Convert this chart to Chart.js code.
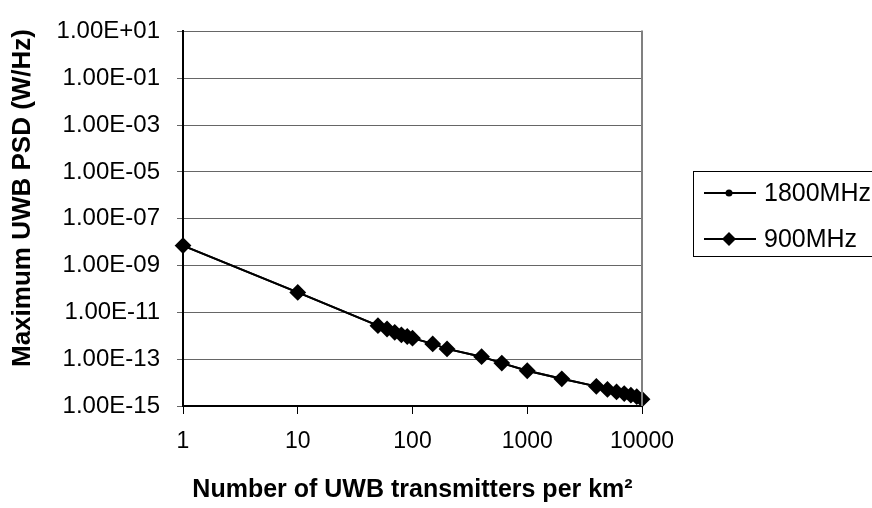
<!DOCTYPE html>
<html>
<head>
<meta charset="utf-8">
<script src="https://cdn.jsdelivr.net/npm/chart.js@4"></script>
<style>
  html, body { margin: 0; padding: 0; background: #fff; }
  #wrap { width: 872px; height: 508px; position: relative; }
</style>
</head>
<body>
<div id="wrap"><canvas id="psdChart"></canvas></div>
<script>
// ===============================
// data
// ===============================
const transmitters = [1, 10, 50, 60, 70, 80, 90, 100, 150, 200, 400, 600, 1000, 2000, 4000, 5000, 6000, 7000, 8000, 9000, 10000];
const psd1800 = [7.1e-9, 7.1e-11, 2.7e-12, 1.95e-12, 1.4e-12, 1.1e-12, 9.3e-13, 7.9e-13, 4.5e-13, 2.75e-13, 1.28e-13, 6.8e-14, 3.2e-14, 1.45e-14, 6.9e-15, 5.1e-15, 4.0e-15, 3.4e-15, 2.9e-15, 2.5e-15, 1.96e-15];
const psd900 = [7.1e-9, 7.1e-11, 2.7e-12, 1.95e-12, 1.4e-12, 1.1e-12, 9.3e-13, 7.9e-13, 4.5e-13, 2.75e-13, 1.28e-13, 6.8e-14, 3.2e-14, 1.45e-14, 6.9e-15, 5.1e-15, 4.0e-15, 3.4e-15, 2.9e-15, 2.5e-15, 1.96e-15];
const seriesNames = ["1800MHz", "900MHz"];
const xTicks = [1, 10, 100, 1000, 10000];
const yTicks = [1e1, 1e-1, 1e-3, 1e-5, 1e-7, 1e-9, 1e-11, 1e-13, 1e-15];
const yTitle = "Maximum UWB PSD (W/Hz)";
const xTitle = "Number of UWB transmitters per km²";

const FONT = "'Liberation Sans', Arial, sans-serif";

function excelExp(v) {
    const e = Math.round(Math.log10(v));
    const m = v / Math.pow(10, e);
    const sign = e < 0 ? "-" : "+";
    const ee = String(Math.abs(e)).padStart(2, "0");
    return m.toFixed(2) + "E" + sign + ee;
}

function toPoints(ys) {
    return transmitters.map((x, i) => ({ x: x, y: ys[i] }));
}

// right border of the plot, y title and legend box
const frameAndLegend = {
    id: "frameAndLegend",
    afterDatasetsDraw(chart) {
        const ctx = chart.ctx;
        const a = chart.chartArea;
        ctx.save();
        ctx.strokeStyle = "#808080";
        ctx.lineWidth = 2;
        ctx.beginPath();
        ctx.moveTo(a.right, a.top - 1);
        ctx.lineTo(a.right, a.bottom);
        ctx.stroke();

        // y title (sits a bit above the plot middle in the original)
        ctx.save();
        ctx.translate(23, 198);
        ctx.rotate(-Math.PI / 2);
        ctx.font = "bold 26px " + FONT;
        ctx.fillStyle = "#000";
        ctx.textAlign = "center";
        ctx.textBaseline = "middle";
        ctx.fillText(yTitle, 0, 0);
        ctx.restore();

        // legend
        ctx.strokeStyle = "#000";
        ctx.lineWidth = 1;
        ctx.strokeRect(693.5, 171.5, 200, 85);
        const rows = [193, 239];
        chart.data.datasets.forEach((ds, i) => {
            const y = rows[i];
            ctx.strokeStyle = "#000";
            ctx.lineWidth = 2;
            ctx.beginPath();
            ctx.moveTo(704, y);
            ctx.lineTo(756, y);
            ctx.stroke();
            ctx.fillStyle = "#000";
            if (ds.pointStyle === "rectRot") {
                const r = 7;
                ctx.beginPath();
                ctx.moveTo(729, y - r);
                ctx.lineTo(729 + r, y);
                ctx.lineTo(729, y + r);
                ctx.lineTo(729 - r, y);
                ctx.closePath();
                ctx.fill();
            } else {
                ctx.beginPath();
                ctx.arc(729, y, 3.5, 0, Math.PI * 2);
                ctx.fill();
            }
            ctx.font = "25px " + FONT;
            ctx.textAlign = "left";
            ctx.textBaseline = "middle";
            ctx.fillText(ds.label, 764, y + 1);
        });
        ctx.restore();
    }
};

new Chart(document.getElementById("psdChart"), {
    type: "line",
    data: {
        datasets: [
            {
                label: seriesNames[0],
                data: toPoints(psd1800),
                borderColor: "#000",
                backgroundColor: "#000",
                borderWidth: 2,
                pointStyle: "circle",
                pointRadius: 3.5,
                pointHoverRadius: 3.5,
                clip: false,
                order: 1
            },
            {
                label: seriesNames[1],
                data: toPoints(psd900),
                borderColor: "#000",
                backgroundColor: "#000",
                borderWidth: 2,
                pointStyle: "rectRot",
                pointRadius: 7,
                pointHoverRadius: 7,
                clip: false,
                order: 0
            }
        ]
    },
    options: {
        responsive: true,
        maintainAspectRatio: false,
        animation: false,
        devicePixelRatio: 1,
        layout: { padding: { left: 0, top: 23, right: 230, bottom: 0 } },
        plugins: {
            legend: { display: false },
            tooltip: { enabled: false }
        },
        scales: {
            x: {
                type: "logarithmic",
                min: 1,
                max: 10000,
                afterBuildTicks: s => { s.ticks = xTicks.map(v => ({ value: v })); },
                afterFit: s => { s.height = 102; },
                ticks: {
                    color: "#000",
                    font: { family: FONT, size: 23 },
                    padding: 14,
                    maxRotation: 0,
                    autoSkip: false,
                    callback: v => String(v)
                },
                grid: { drawOnChartArea: false, drawTicks: true, tickLength: 8, color: "#000", lineWidth: 1 },
                border: { color: "#000", width: 2 },
                title: {
                    display: true,
                    text: xTitle,
                    color: "#000",
                    font: { family: FONT, size: 25, weight: "bold" },
                    padding: { top: 0, bottom: 3 }
                }
            },
            y: {
                type: "logarithmic",
                min: 1e-15,
                max: 1e1,
                afterBuildTicks: s => { s.ticks = yTicks.map(v => ({ value: v })); },
                afterFit: s => { s.width = 183; },
                ticks: {
                    color: "#000",
                    font: { family: FONT, size: 24 },
                    padding: 17,
                    autoSkip: false,
                    callback: v => excelExp(v)
                },
                grid: { color: "#666", lineWidth: 1, tickLength: 6, drawTicks: true },
                border: { color: "#000", width: 2 }
            }
        }
    },
    plugins: [frameAndLegend]
});
</script>
</body>
</html>
